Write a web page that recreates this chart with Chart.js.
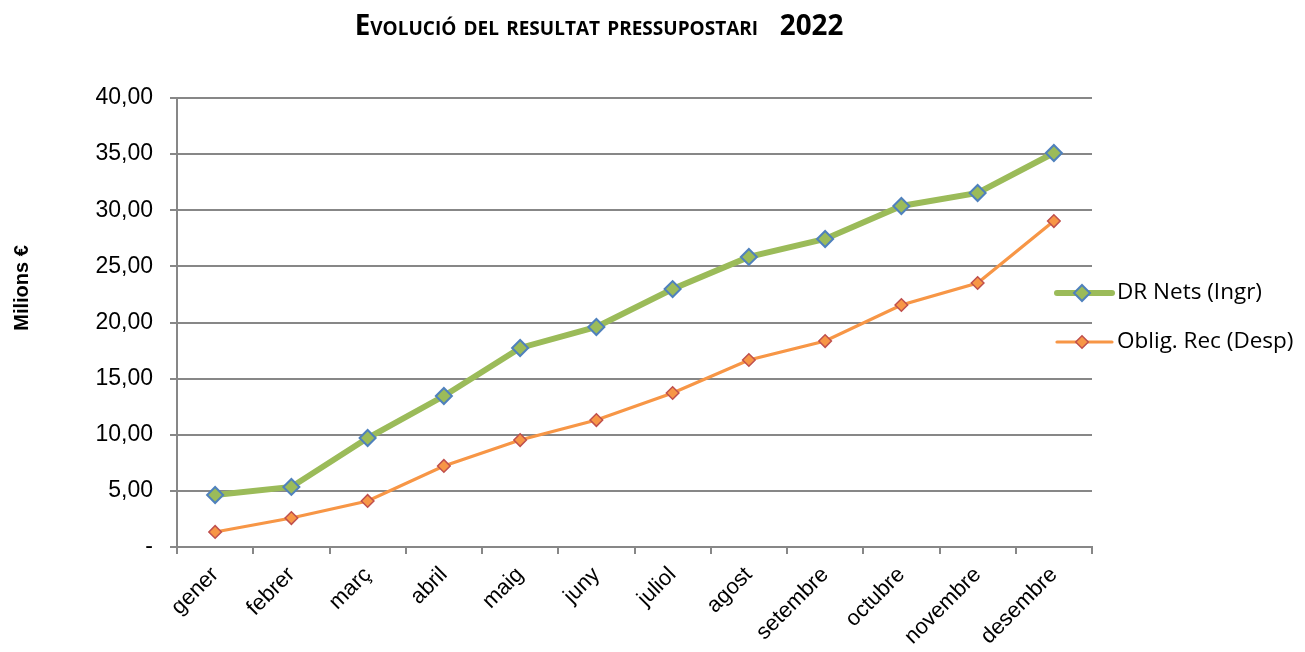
<!DOCTYPE html>
<html>
<head>
<meta charset="utf-8">
<script src="https://cdn.jsdelivr.net/npm/chart.js@4"></script>
<style>
  html, body { margin: 0; padding: 0; background: #fff; }
  #wrap { position: relative; width: 1305px; height: 652px; }
  #title { position: absolute; left: 0; width: 1198px; top: 10px; text-align: center;
    font-family: "Open Sans", sans-serif; font-weight: bold; font-size: 27.8px; line-height: 28px;
    font-variant: small-caps; color: #000; white-space: pre; }
  canvas { position: absolute; left: 0; top: 0; }
</style>
</head>
<body>
<div id="wrap">
  <canvas id="c" width="1305" height="652"></canvas>
  <div id="title">Evolució del resultat pressupostari   2022</div>
</div>
<script>
const categories = ["gener","febrer","març","abril","maig","juny","juliol","agost","setembre","octubre","novembre","desembre"];
const drNets = [4.63, 5.35, 9.71, 13.45, 17.73, 19.60, 22.98, 25.84, 27.44, 30.38, 31.54, 35.10];
const obligRec = [1.34, 2.58, 4.10, 7.22, 9.53, 11.31, 13.72, 16.66, 18.35, 21.56, 23.52, 29.04];
const seriesNames = ["DR Nets (Ingr)", "Oblig. Rec (Desp)"];
const yTicks = [0, 5, 10, 15, 20, 25, 30, 35, 40];
const yAxisTitle = "Milions €";

const GRID = "#878787";

const extrasPlugin = {
  id: "extras",
  afterDraw(chart) {
    const ctx = chart.ctx;
    const items = chart.data.datasets;
    const x0 = 1057, lineLen = 55;
    const ys = [293, 342];
    ctx.save();
    items.forEach((ds, i) => {
      const y = ys[i];
      ctx.strokeStyle = ds.borderColor;
      ctx.lineWidth = ds.borderWidth;
      ctx.lineCap = "round";
      ctx.beginPath();
      ctx.moveTo(x0, y);
      ctx.lineTo(x0 + lineLen, y);
      ctx.stroke();
      const r = ds.pointRadius;
      const cx = x0 + 25;
      ctx.beginPath();
      ctx.moveTo(cx, y - r);
      ctx.lineTo(cx + r, y);
      ctx.lineTo(cx, y + r);
      ctx.lineTo(cx - r, y);
      ctx.closePath();
      ctx.fillStyle = ds.pointBackgroundColor;
      ctx.fill();
      ctx.lineWidth = ds.pointBorderWidth;
      ctx.strokeStyle = ds.pointBorderColor;
      ctx.stroke();
      ctx.fillStyle = "#000";
      ctx.font = "22.5px 'Open Sans', sans-serif";
      ctx.textBaseline = "middle";
      ctx.textAlign = "left";
      ctx.fillText(ds.label, 1117, y);
    });
    // y-axis title
    ctx.translate(22, 288);
    ctx.rotate(-Math.PI / 2);
    ctx.fillStyle = "#000";
    ctx.font = "bold 20px 'Liberation Sans', Arial, sans-serif";
    ctx.textAlign = "center";
    ctx.textBaseline = "middle";
    ctx.fillText(yAxisTitle, 0, 0);
    ctx.restore();
  }
};

new Chart(document.getElementById("c"), {
  type: "line",
  data: {
    labels: categories,
    datasets: [
      {
        label: seriesNames[0],
        data: drNets,
        borderColor: "#9BBB59",
        borderWidth: 6,
        pointStyle: "rectRot",
        pointRadius: 8,
        pointBackgroundColor: "#9BBB59",
        pointBorderColor: "#4F81BD",
        pointBorderWidth: 2,
        tension: 0
      },
      {
        label: seriesNames[1],
        data: obligRec,
        borderColor: "#F79646",
        borderWidth: 3.2,
        pointStyle: "rectRot",
        pointRadius: 6.3,
        pointBackgroundColor: "#F79646",
        pointBorderColor: "#C0504D",
        pointBorderWidth: 1.5,
        tension: 0
      }
    ]
  },
  options: {
    responsive: false,
    animation: false,
    layout: { padding: { left: 0, top: 98, right: 213, bottom: 0 } },
    plugins: { legend: { display: false }, title: { display: false }, tooltip: { enabled: false } },
    scales: {
      x: {
        offset: true,
        grid: { offset: true, drawOnChartArea: false, drawTicks: true, tickLength: 7, color: GRID, lineWidth: 2 },
        border: { display: true, color: GRID, width: 2 },
        ticks: {
          color: "#000",
          font: { family: "Liberation Sans, Arial, sans-serif", size: 22 },
          minRotation: 45, maxRotation: 45, padding: 8
        },
        afterFit(scale) { scale.height = 105; }
      },
      y: {
        min: 0, max: 40,
        afterBuildTicks(scale) { scale.ticks = yTicks.map(v => ({ value: v })); },
        grid: { color: GRID, lineWidth: 2, drawTicks: true, tickLength: 7 },
        border: { display: true, color: GRID, width: 2 },
        ticks: {
          color: "#000",
          padding: 17,
          font: { family: "Liberation Sans, Arial, sans-serif", size: 23 },
          callback(v) { return v === 0 ? "-" : v.toFixed(2).replace(".", ","); }
        },
        title: { display: false },
        afterFit(scale) { scale.width = 177; }
      }
    }
  },
  plugins: [extrasPlugin]
});
</script>
</body>
</html>
